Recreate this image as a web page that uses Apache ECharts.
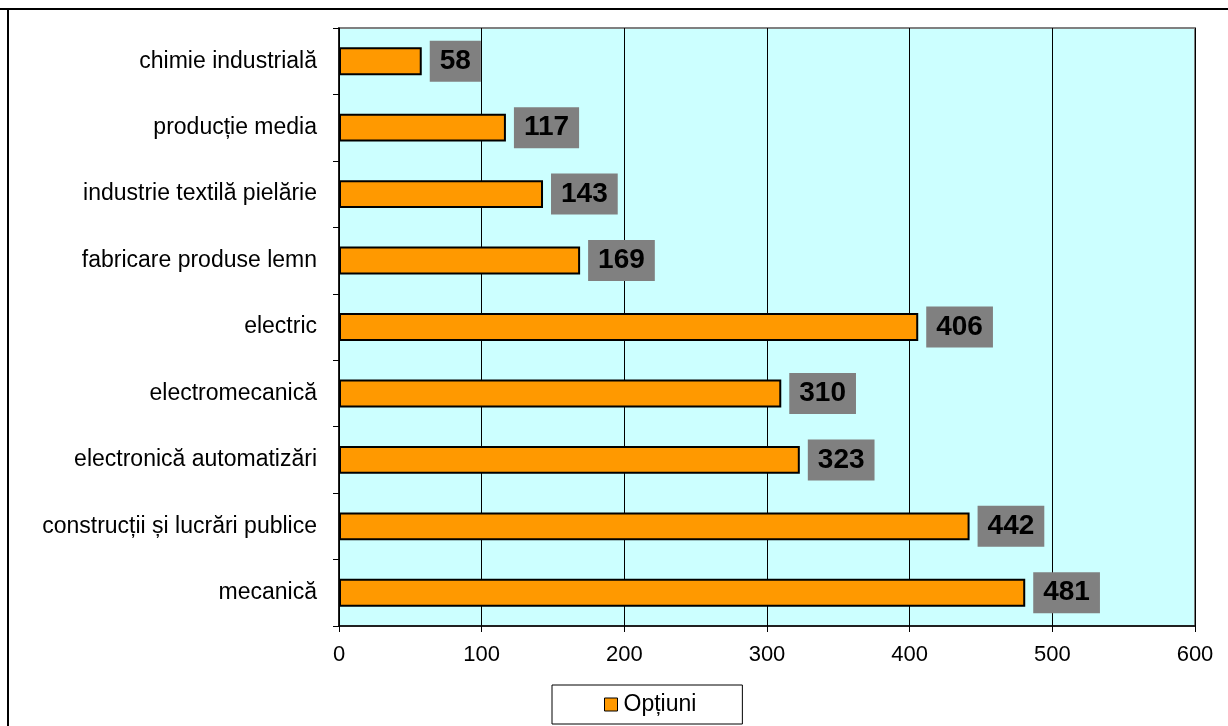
<!DOCTYPE html>
<html>
<head>
<meta charset="utf-8">
<script src="https://cdn.jsdelivr.net/npm/echarts@6/dist/echarts.min.js"></script>
<style>
html,body{margin:0;padding:0;background:#fff;}
#chart{width:1228px;height:726px;}
</style>
</head>
<body>
<div id="chart"></div>
<script>
const categories = ['mecanică', 'construcții și lucrări publice', 'electronică automatizări', 'electromecanică', 'electric', 'fabricare produse lemn', 'industrie textilă pielărie', 'producție media', 'chimie industrială'];
const values = [481, 442, 323, 310, 406, 169, 143, 117, 58];
const seriesName = 'Opțiuni';
const xTicks = [0, 100, 200, 300, 400, 500, 600];

const FONT = '"Liberation Sans", Arial, sans-serif';
const chart = echarts.init(document.getElementById('chart'), null, {renderer: 'canvas'});
chart.setOption({
  animation: false,
  textStyle: {fontFamily: FONT},
  grid: {
    left: 339, right: 33, top: 28, bottom: 100,
    show: true, backgroundColor: '#CCFFFF', borderColor: '#808080', borderWidth: 2
  },
  graphic: [
    {type: 'line', shape: {x1: 0, y1: 9, x2: 1228, y2: 9}, style: {stroke: '#000', lineWidth: 2}, z: 100},
    {type: 'line', shape: {x1: 8, y1: 9, x2: 8, y2: 726}, style: {stroke: '#000', lineWidth: 2}, z: 100}
  ],
  legend: {
    left: 552, top: 685,
    data: [seriesName],
    icon: 'rect', itemWidth: 13, itemHeight: 13, itemGap: 0,
    backgroundColor: '#fff',
    borderColor: '#000', borderWidth: 1,
    padding: [8, 46, 8, 52],
    textStyle: {fontSize: 23, color: '#000', fontFamily: FONT, padding: [0, 0, 0, 1]},
    itemStyle: {borderColor: '#000', borderWidth: 1}
  },
  xAxis: {
    type: 'value', min: 0, max: 600, interval: 100,
    axisLine: {show: true, lineStyle: {color: '#000', width: 1.5}},
    axisTick: {show: true, length: 6, lineStyle: {color: '#000'}},
    axisLabel: {fontSize: 22, color: '#000', margin: 18, fontFamily: FONT,
      formatter: v => xTicks.includes(v) ? String(v) : ''},
    splitLine: {show: true, lineStyle: {color: '#000', width: 1}}
  },
  yAxis: {
    type: 'category', data: categories,
    axisLine: {show: true, lineStyle: {color: '#000', width: 1.5}},
    axisTick: {show: true, length: 6, lineStyle: {color: '#000'}},
    axisLabel: {fontSize: 23, color: '#000', margin: 22, fontFamily: FONT},
    splitLine: {show: false}
  },
  series: [{
    name: seriesName,
    type: 'bar',
    data: values,
    barCategoryGap: '58%',
    itemStyle: {color: '#FF9900', borderColor: '#000', borderWidth: 2},
    label: {
      show: true, position: 'right', distance: 8,
      backgroundColor: '#808080', padding: [7, 10, 6, 10],
      fontSize: 28, fontWeight: 'bold', color: '#000', fontFamily: FONT, lineHeight: 28
    }
  }]
});
</script>
</body>
</html>
